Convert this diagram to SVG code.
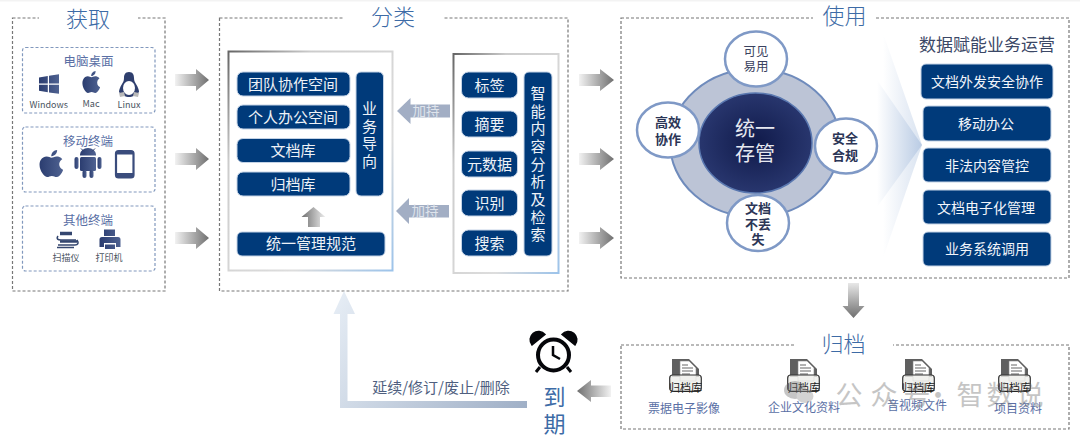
<svg xmlns="http://www.w3.org/2000/svg" xmlns:xlink="http://www.w3.org/1999/xlink" width="1080" height="438" viewBox="0 0 1080 438">
<style>
text{font-family:"Noto Sans CJK SC","Noto Sans",sans-serif;text-anchor:middle}
.panel{fill:#fff;stroke:#777;stroke-width:1.2;stroke-dasharray:3 2}
.sub{fill:#fff;stroke:#8198bd;stroke-width:1.2;stroke-dasharray:3 2}
.title{font-size:22px;fill:#3d6ba6;font-weight:300}
.gap{fill:#fff}
.pill{fill:#003a7a;stroke:#c4d3e6;stroke-width:1}
.pt{font-size:15px;fill:#eef2f7}
.subt{font-size:12.5px;fill:#5a6fa5}
.cap{font-size:9px;fill:#4a5360}
.icon{fill:url(#navy)}
.sm{fill:#fff;stroke:#7f99c6;stroke-width:2.5}
.ct{font-size:13px;fill:#2b3556;font-weight:700}
.cl{font-size:12.5px;fill:#3a4260}
.rt{font-size:14px;fill:#f2f5fa}
.arc{font-size:11px;fill:#222}
.at{font-size:12px;fill:#5a6fa5}
</style>
<defs>
<linearGradient id="navy" x1="0" y1="0" x2="1" y2="0"><stop offset="0" stop-color="#2b3d70"/><stop offset="1" stop-color="#4f6291"/></linearGradient>
<linearGradient id="grayR" x1="0" y1="0" x2="1" y2="0"><stop offset="0" stop-color="#f2f2f2"/><stop offset="1" stop-color="#6f6f6f"/></linearGradient>
<linearGradient id="grayL" x1="0" y1="0" x2="1" y2="0"><stop offset="0" stop-color="#6f6f6f"/><stop offset="1" stop-color="#f2f2f2"/></linearGradient>
<linearGradient id="grayD" x1="0" y1="0" x2="0" y2="1"><stop offset="0" stop-color="#e8e8e8"/><stop offset="1" stop-color="#6f6f6f"/></linearGradient>
<linearGradient id="grayU" x1="0" y1="0" x2="1" y2="0"><stop offset="0" stop-color="#6f6f6f"/><stop offset="1" stop-color="#eeeeee"/></linearGradient>
<linearGradient id="frame" x1="0" y1="0" x2="1" y2="1"><stop offset="0" stop-color="#666"/><stop offset=".25" stop-color="#ccc"/><stop offset=".7" stop-color="#ddd"/><stop offset="1" stop-color="#9cc3ea"/></linearGradient>
<linearGradient id="loop" gradientUnits="userSpaceOnUse" x1="340" y1="291" x2="527" y2="408"><stop offset="0" stop-color="#e6edf5"/><stop offset="1" stop-color="#9fafc6"/></linearGradient>
<linearGradient id="fan" x1="0" y1="0" x2="1" y2="0"><stop offset="0" stop-color="#fff"/><stop offset="1" stop-color="#b9cbe4"/></linearGradient>
<radialGradient id="core"><stop offset="0" stop-color="#101a4a"/><stop offset="1" stop-color="#28366e"/></radialGradient>
<symbol id="apple" viewBox="3.5 2 16.5 20" preserveAspectRatio="none"><path d="M18.71 19.5c-.83 1.24-1.71 2.45-3.05 2.47-1.34.03-1.77-.79-3.29-.79-1.53 0-2 .77-3.27.82-1.31.05-2.3-1.32-3.14-2.53C4.25 17 2.94 12.45 4.7 9.39c.87-1.52 2.43-2.48 4.12-2.51 1.28-.02 2.5.87 3.29.87.78 0 2.26-1.07 3.81-.91.65.03 2.47.26 3.64 1.98-.09.06-2.17 1.28-2.15 3.81.03 3.02 2.65 4.03 2.68 4.04-.03.07-.42 1.44-1.38 2.83M13 3.5c.73-.83 1.94-1.46 2.94-1.5.13 1.17-.34 2.35-1.04 3.19-.69.85-1.83 1.51-2.95 1.42-.15-1.15.41-2.35 1.05-3.11z"/></symbol>
<symbol id="archive" viewBox="0 0 33 33">
<path d="M3 0H20L30 10V18H3Z" fill="#5f5f5f"/>
<path d="M11 2H20L27 9V22H11Z" fill="#fff" stroke="#888" stroke-width=".6"/>
<path d="M13 6H19M13 9H24M13 12H24M13 15H21" stroke="#666" stroke-width="1.200"/>
<rect x=".7" y="16" width="31.6" height="16.3" rx="3" fill="#eeeeea" fill-opacity=".8" stroke="#333" stroke-width="1.200"/>
</symbol>
</defs>
<rect width="1080" height="438" fill="#fff"/>
<rect width="1080" height="1.500" fill="#f3f3f3"/>

<g id="panel-acquire">
<rect class="panel" x="12.500" y="18" width="152.500" height="273"/>
<rect class="gap" x="39" y="8" width="99" height="20"/>
<text class="title" x="88" y="27">获取</text>
<g id="node-desktop">
<rect class="sub" x="22.500" y="47.500" width="132.500" height="65.500" rx="3"/>
<text class="subt" x="88.500" y="66">电脑桌面</text>
<path class="icon" d="M39 77.500L47.800 76V83.500H39ZM49 75.800L59 74.300V83.500H49ZM39 84.700H47.800V92.200L39 90.800ZM49 84.700H59V93.800L49 92.400Z"/>
<use href="#apple" class="icon" x="82" y="71" width="18" height="22"/>
<g id="linux-glyph">
<path d="M129 72c-4 0-5 3-5 6 0 3-1 4-2 6-2 3-3 6-3 8 2 3 7 5 10 5s8-2 10-5c0-2-1-5-3-8-1-2-2-3-2-6 0-3-1-6-5-6z" fill="#2f3f6e"/>
<ellipse cx="129" cy="88" rx="6" ry="7" fill="#fff"/>
<path d="M119 93l5-1 1 4-5 1ZM139 93l-5-1-1 4 5 1Z" fill="#b9b9b9"/>
</g>
<text class="cap" x="48.700" y="107.500">Windows</text>
<text class="cap" x="91" y="107">Mac</text>
<text class="cap" x="129" y="108">Linux</text>
</g>
<g id="node-mobile">
<rect class="sub" x="22.500" y="127" width="132.500" height="65" rx="3"/>
<text class="subt" x="88" y="146">移动终端</text>
<use href="#apple" class="icon" x="39" y="150" width="24" height="27"/>
<g class="icon">
<path d="M80 154.500a8 6.500 0 0 1 16 0v1H80Z"/>
<rect x="80" y="157" width="16" height="14" rx="1.500"/>
<rect x="74.500" y="157" width="4" height="12" rx="2"/>
<rect x="97.500" y="157" width="4" height="12" rx="2"/>
<rect x="82.500" y="170" width="4" height="8" rx="2"/>
<rect x="89.500" y="170" width="4" height="8" rx="2"/>
<path d="M81 148.500l3 3M95 148.500l-3 3" stroke="#2f3f6e" stroke-width="1"/>
</g>
<rect x="116" y="151" width="17.500" height="26.500" rx="2.500" fill="#fff" stroke="#3a4c7c" stroke-width="2.200"/>
<rect x="116" y="151" width="17.500" height="3.500" fill="#3a4c7c"/>
<rect x="116" y="173" width="17.500" height="4" fill="#3a4c7c"/>
</g>
<g id="node-other">
<rect class="sub" x="22.500" y="206" width="132.500" height="65" rx="3"/>
<text class="subt" x="88" y="225">其他终端</text>
<g fill="none" stroke="#34466f">
<path d="M60 233.500H72" stroke-width="3.500"/>
<path d="M58 236c-2 3 0 4 3 4H76" stroke-width="1.500"/>
<path d="M60 241.500H77" stroke-width="2.500"/>
<path d="M77 240c2 3 1 5-2 5H58" stroke-width="1.500"/>
<path d="M57 247.500H74" stroke-width="1.500"/>
</g>
<path class="icon" d="M104 229.500H115V236H104ZM102 237H118a2.500 2.500 0 0 1 2.500 2.500V247H116V243H104V247H99.500V239.500A2.500 2.500 0 0 1 102 237ZM105 244.500H115V249H105Z"/>
<text class="cap" x="66" y="261">扫描仪</text>
<text class="cap" x="109" y="261">打印机</text>
</g>
</g>

<g id="panel-classify">
<rect class="panel" x="219.500" y="18" width="348.500" height="273"/>
<rect class="gap" x="343" y="4" width="101" height="24"/>
<text class="title" x="393" y="24.500">分类</text>
<rect x="228.500" y="51.500" width="164" height="219" fill="#fff" stroke="url(#frame)" stroke-width="2"/>
<rect x="453.500" y="54" width="105" height="219" fill="#fff" stroke="url(#frame)" stroke-width="2"/>
<g id="node-team"><rect class="pill" x="237" y="72" width="113" height="24" rx="6"/><text class="pt" x="293" y="89.500">团队协作空间</text></g>
<g id="node-personal"><rect class="pill" x="237" y="105" width="113" height="24" rx="6"/><text class="pt" x="293" y="122.500">个人办公空间</text></g>
<g id="node-doclib"><rect class="pill" x="237" y="138.500" width="113" height="24" rx="6"/><text class="pt" x="293" y="156">文档库</text></g>
<g id="node-archlib"><rect class="pill" x="237" y="172" width="113" height="24" rx="6"/><text class="pt" x="293" y="189.500">归档库</text></g>
<g id="node-bizguide"><rect class="pill" x="356" y="72" width="27.500" height="124" rx="5"/><text class="pt"><tspan x="369.500" y="113.500">业</tspan><tspan x="369.500" y="131.500">务</tspan><tspan x="369.500" y="149">导</tspan><tspan x="369.500" y="167">向</tspan></text></g>
<g id="node-unified"><rect class="pill" x="237" y="232" width="148" height="24" rx="5"/><text class="pt" x="311" y="249">统一管理规范</text></g>
<g id="node-tag"><rect class="pill" x="461.500" y="72" width="56" height="26" rx="7"/><text class="pt" x="489.500" y="90.500">标签</text></g>
<g id="node-summary"><rect class="pill" x="461.500" y="111" width="56" height="26" rx="7"/><text class="pt" x="489.500" y="130">摘要</text></g>
<g id="node-meta"><rect class="pill" x="461.500" y="151" width="56" height="26" rx="7"/><text class="pt" x="489.500" y="169.500">元数据</text></g>
<g id="node-recog"><rect class="pill" x="461.500" y="190" width="56" height="26" rx="7"/><text class="pt" x="489.500" y="209">识别</text></g>
<g id="node-search"><rect class="pill" x="461.500" y="230" width="56" height="26" rx="7"/><text class="pt" x="489.500" y="249">搜索</text></g>
<g id="node-ai"><rect class="pill" x="524" y="72" width="28" height="184" rx="5"/><text class="pt"><tspan x="538" y="99">智</tspan><tspan x="538" y="116.500">能</tspan><tspan x="538" y="134">内</tspan><tspan x="538" y="152">容</tspan><tspan x="538" y="169.500">分</tspan><tspan x="538" y="187">析</tspan><tspan x="538" y="205">及</tspan><tspan x="538" y="222.500">检</tspan><tspan x="538" y="240">索</tspan></text></g>
</g>

<g id="panel-use">
<rect class="panel" x="621" y="18" width="448" height="260"/>
<rect class="gap" x="813" y="4" width="63" height="24"/>
<text class="title" x="844.500" y="24">使用</text>
<path d="M883 33L922 145L883 258Z" fill="url(#fan)" opacity=".55"/>
<path d="M877 80L922 145L877 207Z" fill="url(#fan)"/>
<g id="node-store">
<ellipse cx="755" cy="143" rx="85" ry="74" fill="#bcc4d6" stroke="#6f8bbc" stroke-width="2"/>
<ellipse cx="755.500" cy="143" rx="56.500" ry="50" fill="url(#core)" stroke="#5a78b0" stroke-width="1.500"/>
<text x="755" y="136" font-size="20" fill="#e6e8f0">统一</text>
<text x="755" y="161" font-size="20" fill="#e6e8f0">存管</text>
</g>
<g id="node-visible"><ellipse class="sm" cx="756" cy="59" rx="31" ry="27.500"/><text class="cl" x="756" y="55.500">可见</text><text class="cl" x="756" y="70.500">易用</text></g>
<g id="node-efficient"><ellipse class="sm" cx="668" cy="130" rx="31" ry="27.500"/><text class="ct" x="668" y="127">高效</text><text class="ct" x="668" y="144">协作</text></g>
<g id="node-secure"><ellipse class="sm" cx="846" cy="146" rx="31" ry="27.500"/><text class="ct" x="845" y="143">安全</text><text class="ct" x="845" y="160">合规</text></g>
<g id="node-nolost"><ellipse class="sm" cx="758" cy="223" rx="31" ry="28"/><text class="ct" x="758" y="213">文档</text><text class="ct" x="758" y="229">不丢</text><text class="ct" x="758" y="244">失</text></g>
<text x="987" y="51" font-size="17" fill="#3b4766">数据赋能业务运营</text>
<g id="node-share"><rect class="pill" x="921" y="64" width="132" height="35" rx="5"/><text class="rt" x="987" y="87">文档外发安全协作</text></g>
<g id="node-mobileoffice"><rect class="pill" x="923" y="106" width="128" height="35" rx="5"/><text class="rt" x="986" y="129">移动办公</text></g>
<g id="node-illegal"><rect class="pill" x="923" y="148" width="128" height="34" rx="5"/><text class="rt" x="987" y="171">非法内容管控</text></g>
<g id="node-digital"><rect class="pill" x="923" y="190" width="128" height="34" rx="5"/><text class="rt" x="986" y="213">文档电子化管理</text></g>
<g id="node-bizcall"><rect class="pill" x="923" y="232" width="128" height="34" rx="5"/><text class="rt" x="987" y="254">业务系统调用</text></g>
</g>

<g id="panel-archive">
<rect class="panel" x="621" y="345" width="448" height="84"/>
<rect class="gap" x="794" y="332" width="99" height="23"/>
<text class="title" x="843.500" y="352">归档</text>
<g id="node-bill"><use href="#archive" x="669" y="359" width="33" height="33"/><text class="arc" x="685.500" y="392">归档库</text><text class="at" x="684" y="413">票据电子影像</text></g>
<g id="node-culture"><use href="#archive" x="787" y="359" width="33" height="33"/><text class="arc" x="803.500" y="392">归档库</text><text class="at" x="804" y="412">企业文化资料</text></g>
<g id="node-media"><use href="#archive" x="902" y="359" width="33" height="33"/><text class="arc" x="918.500" y="392">归档库</text><text class="at" x="917" y="410">音视频文件</text></g>
<g id="node-project"><use href="#archive" x="998" y="359" width="33" height="33"/><text class="arc" x="1014.500" y="392">归档库</text><text class="at" x="1018" y="413">项目资料</text></g>
</g>

<g id="connectors">
<path d="M175 74H196V69L209 80L196 91V86H175Z" fill="url(#grayR)"/>
<path d="M175 153H196V148L209 159L196 170V165H175Z" fill="url(#grayR)"/>
<path d="M175 232H196V227L209 238L196 249V244H175Z" fill="url(#grayR)"/>
<path d="M579 74H600V69L614 80L600 91V86H579Z" fill="url(#grayR)"/>
<path d="M579 153H600V148L614 159L600 170V165H579Z" fill="url(#grayR)"/>
<path d="M579 232H600V227L614 238L600 249V244H579Z" fill="url(#grayR)"/>
<path d="M308 227V217H301.500L313.500 207L325.500 217H320V227Z" fill="url(#grayU)"/>
<path d="M450 104.500H410.500V98L397 111L410.500 124V117.500H450Z" fill="#a2aec4"/>
<path d="M449 205H409V198L396 211L409 224V217.500H449Z" fill="#a2aec4"/>
<text x="426" y="116" font-size="13.500" fill="#dfe4ec">加持</text>
<text x="425" y="216" font-size="13.500" fill="#dfe4ec">加持</text>
<path d="M848 283H859V306H864.500L853.500 318L842.500 306H848Z" fill="url(#grayD)"/>
<path d="M611 385.500H591V380L577 391L591 402V397H611Z" fill="url(#grayL)"/>
<path d="M527 408H340V314H333.500L344 291L355 314H347.500V401H527Z" fill="url(#loop)"/>
<text x="441" y="393" font-size="15" fill="#4f5f7f">延续/修订/废止/删除</text>
</g>

<g id="node-expire">
<path d="M532 345a8 8 0 0 1 13-10.500ZM575 345a8 8 0 0 0-13-10.500Z" fill="#05060a" stroke="#05060a" stroke-width="1.500"/>
<path d="M540 367l-4 5M567 367l4 5" stroke="#05060a" stroke-width="3"/>
<circle cx="553.500" cy="355" r="15.500" fill="#fff" stroke="#05060a" stroke-width="4"/>
<path d="M553 346V355L560 359" fill="none" stroke="#05060a" stroke-width="2.500"/>
<text x="554.500" y="405" font-size="22" fill="#3d6ba6">到</text>
<text x="554.500" y="432" font-size="22" fill="#3d6ba6">期</text>
</g>

<g id="watermark" opacity=".42">
<ellipse cx="795" cy="390" rx="11" ry="9" fill="#777"/>
<ellipse cx="805" cy="396" rx="8.500" ry="7" fill="#999"/>
<text font-size="27" fill="#777"><tspan x="849" y="405">公</tspan><tspan x="884" y="405">众</tspan><tspan x="917" y="405">号</tspan><tspan x="938" y="405">·</tspan><tspan x="970" y="405">智</tspan><tspan x="1000" y="405">数</tspan><tspan x="1030" y="405">说</tspan></text>
</g>
</svg>
